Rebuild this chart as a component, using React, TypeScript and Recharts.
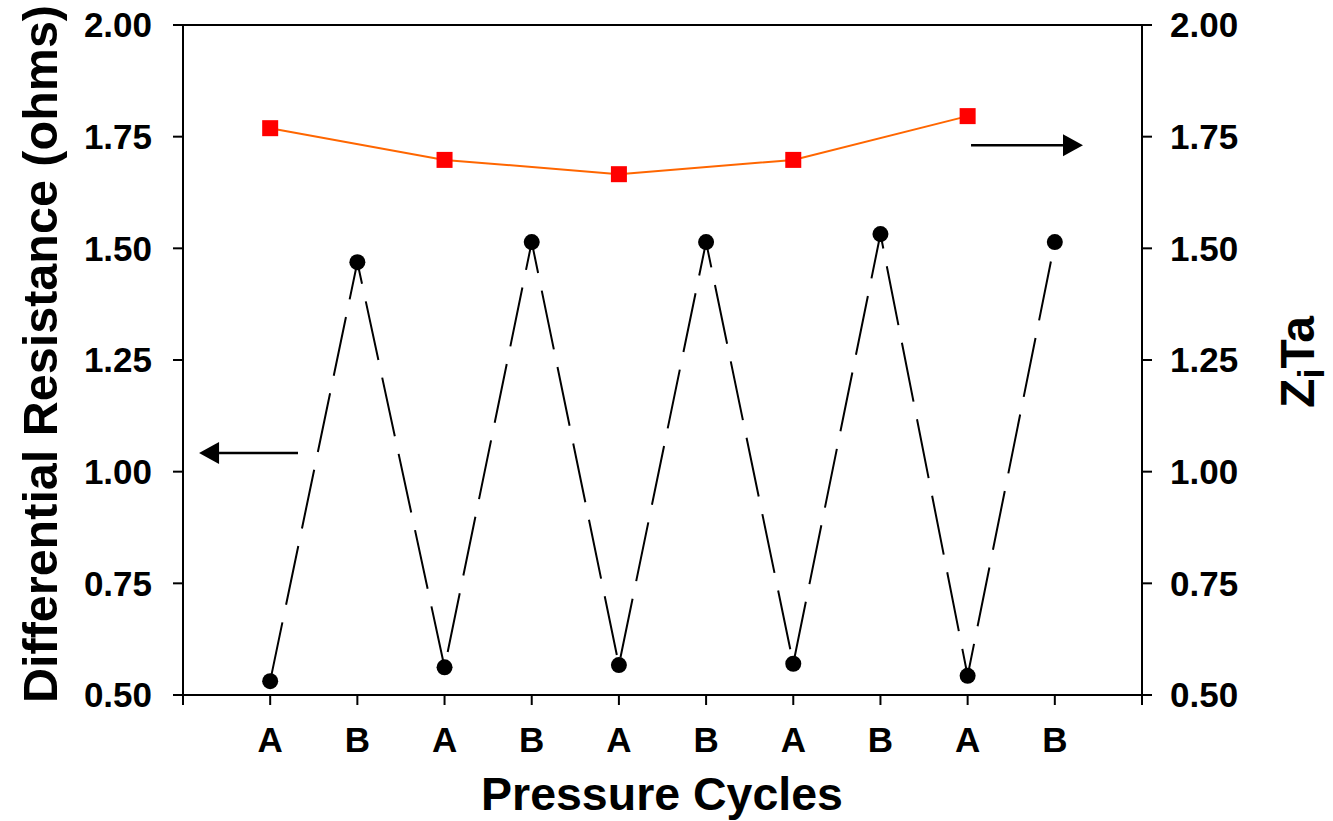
import React from 'react';
import { LineChart, Line, XAxis, YAxis, ReferenceLine } from 'recharts';

const cyclePositions = [1, 2, 3, 4, 5, 6, 7, 8, 9, 10];
const cycleLabels = ['A', 'B', 'A', 'B', 'A', 'B', 'A', 'B', 'A', 'B'];
const resistance = [0.531, 1.469, 0.562, 1.514, 0.567, 1.514, 0.57, 1.532, 0.543, 1.514];

const zitaPositions = [1, 3, 5, 7, 9];
const zita = [1.769, 1.698, 1.666, 1.698, 1.796];

const xTicks = [0, 1, 2, 3, 4, 5, 6, 7, 8, 9, 10, 11];
const yTicks = [0.5, 0.75, 1.0, 1.25, 1.5, 1.75, 2.0];

// annotation arrows
const leftArrow = { from: 1.319, to: 0.184, y: 1.042 };
const rightArrow = { from: 9.039, to: 10.323, y: 1.731 };

const resistanceData = cyclePositions.map((x, i) => ({ x, r: resistance[i] }));
const zitaData = zitaPositions.map((x, i) => ({ x, z: zita[i] }));

const FONT = '"Liberation Sans", Arial, Helvetica, sans-serif';

const arrowShape = (p: any) => {
  const { x1, y1, x2, y2 } = p;
  const dir = Math.sign(x2 - x1);
  const head = 20;
  const half = 11;
  return (
    <g>
      <line x1={x1} y1={y1} x2={x2 - dir * head} y2={y2} stroke="#000" strokeWidth={2.5} />
      <polygon
        points={`${x2},${y2} ${x2 - dir * head},${y2 - half} ${x2 - dir * head},${y2 + half}`}
        fill="#000"
      />
    </g>
  );
};

const SquareDot = (p: any) => {
  const { cx, cy } = p;
  if (cx == null || cy == null) return null;
  return <rect x={cx - 8} y={cy - 8} width={16} height={16} fill="#FF0000" />;
};

const CircleDot = (p: any) => {
  const { cx, cy } = p;
  if (cx == null || cy == null) return null;
  return <circle cx={cx} cy={cy} r={8} fill="#000" />;
};

const LeftLabel = () => (
  <text
    x={57}
    y={354}
    transform="rotate(-90, 57, 354)"
    textAnchor="middle"
    fontFamily={FONT}
    fontWeight="bold"
    fontSize={48.5}
    fill="#000"
  >
    Differential Resistance (ohms)
  </text>
);

const RightLabel = () => (
  <text
    x={1314}
    y={362}
    transform="rotate(-90, 1314, 362)"
    textAnchor="middle"
    fontFamily={FONT}
    fontWeight="bold"
    fontSize={48}
    fill="#000"
  >
    Z
    <tspan fontSize={36} dy={10}>i</tspan>
    <tspan dy={-10}>Ta</tspan>
  </text>
);

const BottomLabel = () => (
  <text
    x={662}
    y={810}
    textAnchor="middle"
    fontFamily={FONT}
    fontWeight="bold"
    fontSize={46.5}
    fill="#000"
  >
    Pressure Cycles
  </text>
);

const tickStyle = { fontFamily: FONT, fontWeight: 'bold', fontSize: 35, fill: '#000' } as any;

export default function App() {
  return (
    <div style={{ position: 'absolute', left: 0, top: 0, background: '#fff' }}>
      <LineChart width={1333} height={821} margin={{ top: 25, right: 0, bottom: 0, left: 0 }}>
        <XAxis
          dataKey="x"
          type="number"
          domain={[0, 11]}
          ticks={xTicks}
          interval={0}
          allowDataOverflow
          tickFormatter={(v: number) => cycleLabels[v - 1] ?? ''}
          height={126}
          tickSize={10}
          tickMargin={22}
          axisLine={{ stroke: '#000', strokeWidth: 2 }}
          tickLine={{ stroke: '#000', strokeWidth: 2 }}
          tick={tickStyle}
          label={<BottomLabel />}
        />
        <YAxis
          yAxisId="left"
          orientation="left"
          width={183}
          domain={[0.5, 2]}
          ticks={yTicks}
          interval={0}
          allowDataOverflow
          tickFormatter={(v: number) => v.toFixed(2)}
          tickSize={10}
          tickMargin={21}
          axisLine={{ stroke: '#000', strokeWidth: 2 }}
          tickLine={{ stroke: '#000', strokeWidth: 2 }}
          tick={tickStyle}
          label={<LeftLabel />}
        />
        <YAxis
          yAxisId="right"
          orientation="right"
          width={191}
          domain={[0.5, 2]}
          ticks={yTicks}
          interval={0}
          allowDataOverflow
          tickFormatter={(v: number) => v.toFixed(2)}
          tickSize={10}
          tickMargin={18}
          axisLine={{ stroke: '#000', strokeWidth: 2 }}
          tickLine={{ stroke: '#000', strokeWidth: 2 }}
          tick={tickStyle}
          label={<RightLabel />}
        />
        <ReferenceLine yAxisId="left" y={2} stroke="#000" strokeWidth={2} />
        <Line
          yAxisId="left"
          data={resistanceData}
          dataKey="r"
          type="linear"
          stroke="#000"
          strokeWidth={2}
          strokeDasharray="60 18"
          dot={<CircleDot />}
          activeDot={false}
          isAnimationActive={false}
        />
        <Line
          yAxisId="right"
          data={zitaData}
          dataKey="z"
          type="linear"
          stroke="#FF6600"
          strokeWidth={2}
          dot={<SquareDot />}
          activeDot={false}
          isAnimationActive={false}
        />
        <ReferenceLine
          yAxisId="left"
          segment={[
            { x: leftArrow.from, y: leftArrow.y },
            { x: leftArrow.to, y: leftArrow.y },
          ]}
          ifOverflow="visible"
          shape={arrowShape}
        />
        <ReferenceLine
          yAxisId="right"
          segment={[
            { x: rightArrow.from, y: rightArrow.y },
            { x: rightArrow.to, y: rightArrow.y },
          ]}
          ifOverflow="visible"
          shape={arrowShape}
        />
      </LineChart>
    </div>
  );
}
